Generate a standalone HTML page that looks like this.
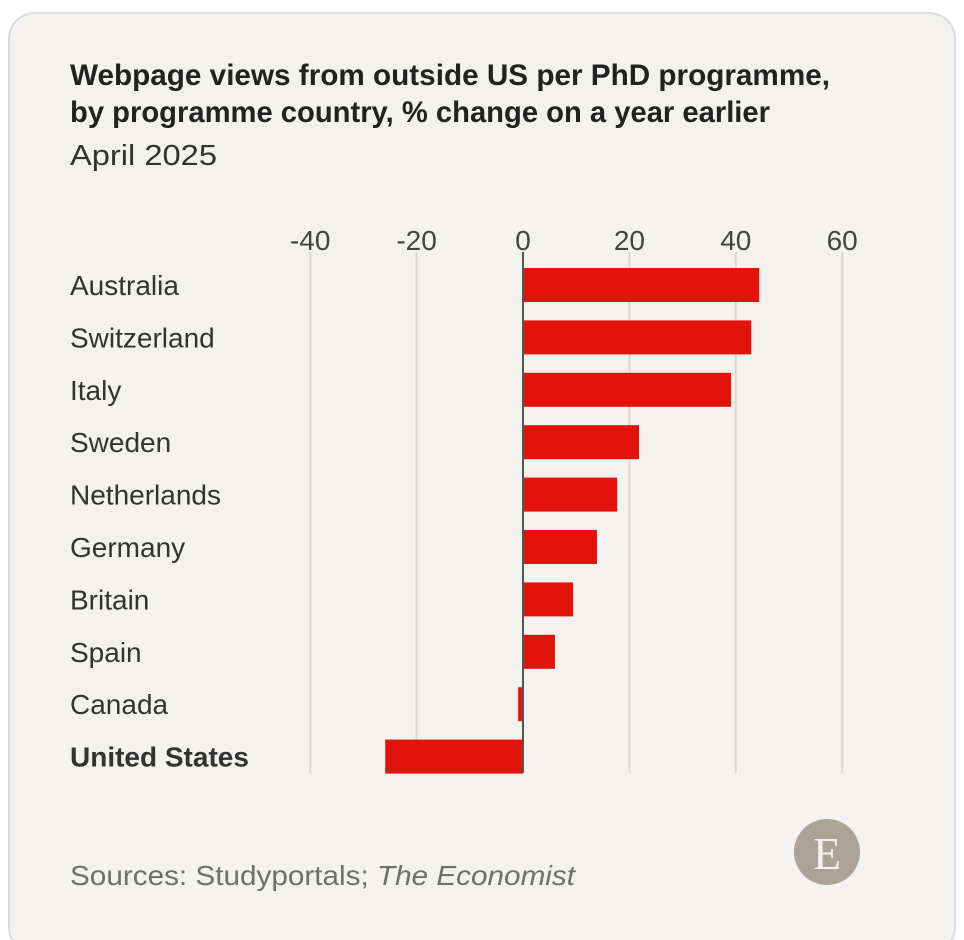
<!DOCTYPE html>
<html><head><meta charset="utf-8"><style>
html,body{margin:0;padding:0;background:#fff;}
svg{display:block;font-family:"Liberation Sans",sans-serif;}
</style></head><body>
<svg width="964" height="940" viewBox="0 0 964 940">
<rect x="9" y="13" width="946" height="940" rx="26" fill="#f3f2ee" stroke="#d6dde3" stroke-width="2"/>
<text x="70" y="85" font-size="30" font-weight="bold" fill="#222" textLength="760" lengthAdjust="spacingAndGlyphs">Webpage views from outside US per PhD programme,</text>
<text x="70" y="122" font-size="30" font-weight="bold" fill="#222" textLength="700" lengthAdjust="spacingAndGlyphs">by programme country, % change on a year earlier</text>
<text x="70" y="165" font-size="29" fill="#333" textLength="147" lengthAdjust="spacingAndGlyphs">April 2025</text>
<g id="plot"></g>
<text x="70" y="885" font-size="28" fill="#6f6f6f" textLength="505" lengthAdjust="spacingAndGlyphs">Sources: Studyportals; <tspan font-style="italic">The Economist</tspan></text>
<g>
<circle cx="827" cy="852" r="33" fill="#a9a496"/>
<text x="827" y="869" font-size="46" text-anchor="middle" fill="#f3f2ee" font-family="Liberation Serif,serif">E</text>
</g>
</svg>
<script>
const categories=["Australia","Switzerland","Italy","Sweden","Netherlands","Germany","Britain","Spain","Canada","United States"];
const values=[44.4,42.9,39.1,21.8,17.7,13.9,9.4,6.0,-0.9,-25.9];
const ticks=[-40,-20,0,20,40,60];
const NS="http://www.w3.org/2000/svg";
const g=document.getElementById('plot');
const x=v=>523+v*5.32;
const y=i=>285+i*52.4;
function mk(t,a){const e=document.createElementNS(NS,t);for(const k in a)e.setAttribute(k,a[k]);g.appendChild(e);return e;}
ticks.forEach(t=>{
  if(t!==0){const l=mk('line',{x1:x(t),x2:x(t),y1:252,y2:773,stroke:'#d8d6d0','stroke-width':2});
  
  }
  const tx=mk('text',{x:x(t),y:250,'font-size':28,'text-anchor':'middle',fill:'#444'});
  tx.textContent=t;
  
  
});
categories.forEach((c,i)=>{
  const v=values[i];
  const r=mk('rect',{x:Math.min(x(0),x(v)),y:y(i)-17,width:Math.abs(x(v)-x(0)),height:34,fill:'#e3120b'});
  
  
  const t=mk('text',{x:70,y:y(i)+10,'font-size':28,fill:'#333','font-weight':c==='United States'?'bold':'normal'});
  t.textContent=c;
  
  
});
const z=mk('line',{x1:x(0),x2:x(0),y1:252,y2:773,stroke:'#555','stroke-width':2});


</script>
</body></html>
